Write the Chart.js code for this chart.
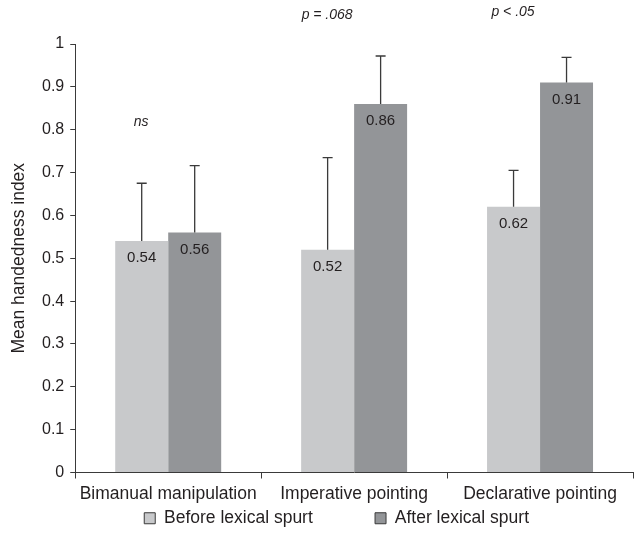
<!DOCTYPE html>
<html>
<head>
<meta charset="utf-8">
<script src="https://cdn.jsdelivr.net/npm/chart.js@4"></script>
<style>
  html, body { margin: 0; padding: 0; background: #fff; }
  #wrap { width: 641px; height: 547px; }
</style>
</head>
<body>
<div id="wrap"><canvas id="myChart"></canvas></div>
<script>
const categories = ["Bimanual manipulation", "Imperative pointing", "Declarative pointing"];
const beforeValues = [0.54, 0.52, 0.62];
const afterValues = [0.56, 0.86, 0.91];
const beforeErrTop = [0.675, 0.735, 0.705];
const afterErrTop = [0.716, 0.972, 0.969];
const yTicks = [0, 0.1, 0.2, 0.3, 0.4, 0.5, 0.6, 0.7, 0.8, 0.9, 1];
const notes = ["ns", "p = .068", "p < .05"];
const noteLevels = [0.817, 1.068, 1.075];

const FONT = "'Liberation Sans', Arial, sans-serif";
const TEXT = "#231f20";

// error whiskers (upper only) + value labels + significance notes
const extras = {
    id: "extras",
    afterDatasetsDraw(chart) {
        const { ctx, scales: { x, y } } = chart;
        const tops = [beforeErrTop, afterErrTop];
        ctx.save();
        chart.data.datasets.forEach((ds, di) => {
            const meta = chart.getDatasetMeta(di);
            meta.data.forEach((bar, i) => {
                const yTop = y.getPixelForValue(tops[di][i]);
                ctx.strokeStyle = "#3a3a3a";
                ctx.lineWidth = 1.3;
                ctx.beginPath();
                ctx.moveTo(bar.x, bar.y);
                ctx.lineTo(bar.x, yTop);
                ctx.moveTo(bar.x - 5, yTop);
                ctx.lineTo(bar.x + 5, yTop);
                ctx.stroke();
                ctx.fillStyle = TEXT;
                ctx.font = "15px " + FONT;
                ctx.textAlign = "center";
                ctx.textBaseline = "middle";
                ctx.fillText(ds.data[i].toFixed(2), bar.x, bar.y + 17);
            });
        });
        ctx.font = "italic 14px " + FONT;
        ctx.textAlign = "center";
        ctx.textBaseline = "middle";
        ctx.fillStyle = TEXT;
        notes.forEach((t, i) => {
            const first = chart.getDatasetMeta(0).data[i];
            const second = chart.getDatasetMeta(1).data[i];
            const cx = (first.x + second.x) / 2 - 27;
            ctx.fillText(t, cx, y.getPixelForValue(noteLevels[i]));
        });
        ctx.restore();
    }
};

const config = {
    type: "bar",
    data: {
        labels: categories,
        datasets: [
            {
                label: "Before lexical spurt",
                data: beforeValues,
                backgroundColor: "#c8c9cb",
                borderWidth: 0,
            },
            {
                label: "After lexical spurt",
                data: afterValues,
                backgroundColor: "#939598",
                borderWidth: 0,
            },
        ],
    },
    options: {
        responsive: true,
        maintainAspectRatio: false,
        animation: false,
        layout: { padding: { top: 44, right: 8, left: 6, bottom: 10 } },
        datasets: { bar: { barPercentage: 1, categoryPercentage: 0.57 } },
        plugins: {
            tooltip: { enabled: false },
            legend: {
                position: "bottom",
                fullSize: false,
                labels: {
                    color: TEXT,
                    font: { family: FONT, size: 17.5 },
                    boxWidth: 11,
                    boxHeight: 11,
                    padding: 0,
                    generateLabels(chart) {
                        // trailing spaces set the gap between items and nudge the row right
                        const tails = ["\u2003\u2003\u2003  ", "\u2003\u2003"];
                        return chart.data.datasets.map((ds, i) => ({
                            text: ds.label + tails[i],
                            fillStyle: ds.backgroundColor,
                            strokeStyle: "#3a3a3a",
                            lineWidth: 1,
                            fontColor: TEXT,
                            datasetIndex: i,
                        }));
                    },
                },
            },
        },
        scales: {
            x: {
                offset: true,
                grid: { display: true, offset: true, drawOnChartArea: false, drawTicks: true, tickLength: 6, color: "#3a3a3a" },
                border: { color: "#3a3a3a", width: 1 },
                ticks: { color: TEXT, font: { family: FONT, size: 17.5 }, padding: 5, maxRotation: 0, autoSkip: false },
            },
            y: {
                min: 0,
                max: 1,
                afterBuildTicks(axis) {
                    axis.ticks = yTicks.map((v) => ({ value: v }));
                },
                grid: { display: true, drawOnChartArea: false, drawTicks: true, tickLength: 5, color: "#3a3a3a" },
                border: { color: "#3a3a3a", width: 1 },
                ticks: { color: TEXT, font: { family: FONT, size: 16 }, padding: 6, callback: (v) => String(v) },
                title: { display: true, text: "Mean handedness index", color: TEXT, font: { family: FONT, size: 17.5 }, padding: { top: 3, bottom: 6 } },
            },
        },
    },
    plugins: [extras],
};

new Chart(document.getElementById("myChart"), config);
</script>
</body>
</html>
